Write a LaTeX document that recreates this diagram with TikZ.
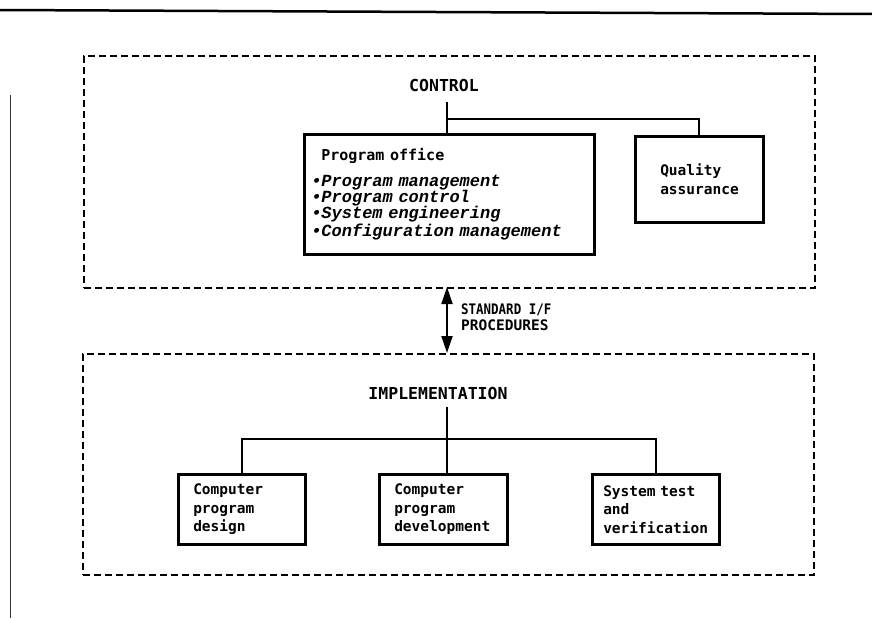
\documentclass[tikz,border=0pt]{standalone}
\usepackage{fontspec}
\usepackage{graphicx}
\usetikzlibrary{arrows.meta}
\newfontfamily\dmono{DejaVu Sans Mono}
\newfontfamily\cmono{Liberation Mono}
\begin{document}
\begin{tikzpicture}[x=1pt,y=-1pt,
  dbox/.style={draw, line width=2pt, dash pattern=on 7pt off 4pt, anchor=north west, inner sep=0pt},
  sbox/.style={draw, line width=2.5pt, anchor=north west, inner ysep=0pt, align=left,
    font=\dmono\bfseries\fontsize{14.5}{18.5}\selectfont},
  head/.style={font=\dmono\bfseries\fontsize{16.5}{18}\selectfont, inner sep=0pt},
  conn/.style={line width=1.6pt}
]
\useasboundingbox (0,0) rectangle (872,618);

% scan border lines
\coordinate (tl) at (0,10);
\coordinate (tr) at (872,14);
\draw[line width=2.5pt] (tl) -- (tr);
\coordinate (lt) at (10,95);
\coordinate (lb) at (10,618);
\draw[line width=0.8pt, black!80] (lt) -- (lb);

% group boxes
\node[dbox, minimum width=731pt, minimum height=232pt] (ctrlbox) at (83,55) {};
\node[dbox, minimum width=731pt, minimum height=221pt] (implbox) at (82,353) {};

% headings
\node[head] (ctrl) at (444,85) {CONTROL};
\node[head] (impl) at (438,393) {IMPLEMENTATION};

% control boxes
\node[sbox, minimum width=290pt, minimum height=120pt, text width=276pt, inner xsep=7pt,
  font=\cmono\bfseries\itshape\fontsize{17}{16}\selectfont] (po) at (303,133)
  {{\dmono\bfseries\upshape\fontsize{15}{16}\selectfont\hspace*{10pt}Program office}\\[10pt]
   \textbullet Program management\\
   \textbullet Program control\\
   \textbullet System engineering\\
   \textbullet Configuration management};
\node[sbox, minimum width=128pt, minimum height=86pt, text width=78pt, inner xsep=25pt] (qa) at (634,135)
  {Quality\\assurance};

% implementation boxes
\node[sbox, minimum width=127pt, minimum height=70pt, text width=97pt, inner xsep=15pt] (cpd) at (177,473)
  {Computer\\program\\design};
\node[sbox, minimum width=128pt, minimum height=70pt, text width=98pt, inner xsep=15pt] (cpdev) at (378,473)
  {Computer\\program\\development};
\node[sbox, minimum width=127pt, minimum height=70pt, text width=105pt, inner xsep=11pt] (stv) at (591,473)
  {System test\\and\\verification};

% control connectors
\coordinate (ctop) at (447,102);
\coordinate (cbr) at (447,119);
\draw[conn] (ctop) -- (ctop |- po.north);
\draw[conn] (cbr) -| (qa.north);

% implementation connectors
\coordinate (itop) at (447,407);
\coordinate (ibr) at (447,439);
\draw[conn] (itop) -- (itop |- cpdev.north);
\draw[conn] (ibr) -| (cpd.north);
\draw[conn] (ibr) -| (stv.north);

% interface arrow
\coordinate (aup) at (447,287);
\coordinate (adn) at (447,353);
\draw[line width=2pt, {Triangle[width=11pt,length=17pt]}-{Triangle[width=11pt,length=17pt]}] (aup) -- (adn);
\node[anchor=west, align=left, inner sep=0pt, font=\dmono\bfseries\fontsize{14.5}{15.5}\selectfont] (iflabel) at (461,317)
  {\scalebox{0.86}[1]{STANDARD I/F}\\PROCEDURES};
\end{tikzpicture}
\end{document}
